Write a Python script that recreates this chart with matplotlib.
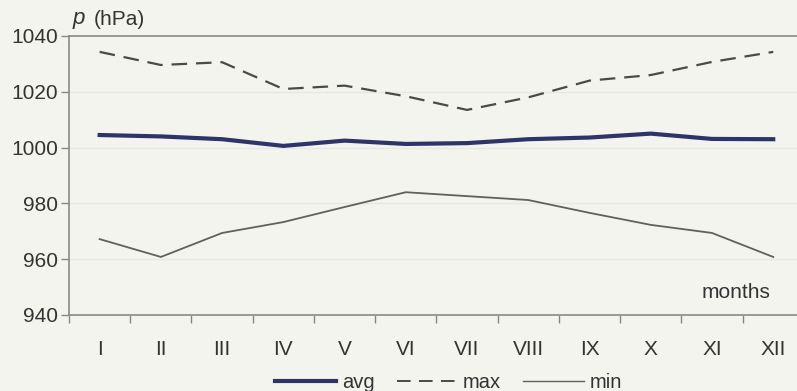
import numpy as np
import matplotlib.pyplot as plt
from matplotlib.lines import Line2D

# monthly pressure values (hPa)
months = ['I', 'II', 'III', 'IV', 'V', 'VI', 'VII', 'VIII', 'IX', 'X', 'XI', 'XII']
p_avg = [1004.5, 1004.0, 1003.0, 1000.6, 1002.5, 1001.3, 1001.6, 1003.0, 1003.6, 1005.0, 1003.1, 1003.0]
p_max = [1034.3, 1029.6, 1030.6, 1021.0, 1022.2, 1018.4, 1013.5, 1018.0, 1024.0, 1026.0, 1030.7, 1034.3]
p_min = [967.2, 960.8, 969.4, 973.3, 978.7, 984.0, 982.6, 981.2, 976.6, 972.3, 969.4, 960.8]

plt.rcParams['font.family'] = ['Liberation Sans', 'DejaVu Sans']

bg = '#f4f4ef'
txt = '#333333'
fig = plt.figure(figsize=(7.97, 3.91), dpi=100, facecolor=bg)
ax = fig.add_axes([0.0866, 0.1944, 0.922, 0.7136], facecolor=bg)

x = np.arange(len(months))
ax.plot(x, p_max, color='#4a4a4a', lw=1.6, dashes=(7, 4))
ax.plot(x, p_min, color='#606060', lw=1.3)
ax.plot(x, p_avg, color='#2d3468', lw=3.0)

ax.set_xlim(-0.5, 11.5)
ax.set_ylim(940, 1040)
ax.set_yticks([940, 960, 980, 1000, 1020, 1040])
ax.tick_params(axis='y', length=6, width=1, color='#888888', labelsize=15, pad=2,
               labelcolor=txt)
ax.set_xticks(x)
ax.set_xticklabels(months)
ax.set_xticks(np.arange(-0.5, 12, 1), minor=True)
ax.tick_params(axis='x', which='major', length=0, labelsize=15, pad=18, labelcolor=txt)
ax.tick_params(axis='x', which='minor', length=6, width=1, color='#888888')

for yv in [960, 980, 1000, 1020]:
    ax.axhline(yv, color='#e8e8e2', lw=1, zorder=0)
ax.axhline(1040, color='#8a8a8a', lw=1.2, clip_on=False)

for s in ['left', 'bottom']:
    ax.spines[s].set_color('#8a8a8a')
    ax.spines[s].set_linewidth(1.2)
ax.spines['top'].set_visible(False)
ax.spines['right'].set_visible(False)

fig.text(0.091, 0.925, 'p', fontsize=16, style='italic', color=txt, va='bottom')
fig.text(0.118, 0.925, '(hPa)', fontsize=15, color=txt, va='bottom')
ax.text(10.95, 944.5, 'months', fontsize=15, color=txt, ha='right', va='bottom')

handles = [Line2D([], [], color='#2d3468', lw=3.0),
           Line2D([], [], color='#4a4a4a', lw=1.4, dashes=(7, 4.3)),
           Line2D([], [], color='#606060', lw=1.0)]
fig.legend(handles, ['avg', 'max', 'min'], loc='lower center', bbox_to_anchor=(0.563, -0.05),
           ncol=3, frameon=False, fontsize=14.5, handlelength=3.0, handletextpad=0.3,
           columnspacing=1.1, labelcolor=txt)

fig.savefig('out.png', dpi=100, facecolor=bg)
